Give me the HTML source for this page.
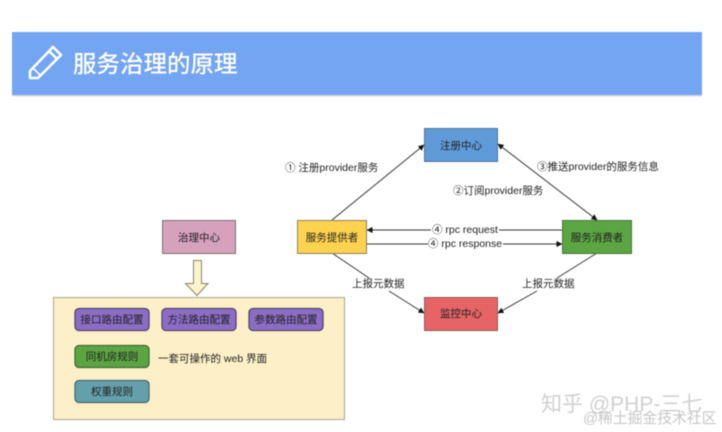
<!DOCTYPE html>
<html><head><meta charset="utf-8"><style>
html,body{margin:0;padding:0;background:#fff;width:722px;height:432px;overflow:hidden}
svg{display:block;filter:blur(.4px)}
text{font-family:"Liberation Sans","Noto Sans CJK SC",sans-serif;fill:#222;font-size:10.500px}
.c{text-anchor:middle}
</style></head><body>
<svg width="722" height="432" viewBox="0 0 722 432" xmlns="http://www.w3.org/2000/svg">
<defs><marker id="a" markerWidth="6" markerHeight="6" refX="5.5" refY="3" orient="auto" markerUnits="userSpaceOnUse"><path d="M0 0L6 3L0 6Z" fill="#111"/></marker>
<marker id="b" markerWidth="6" markerHeight="6" refX="0.5" refY="3" orient="auto" markerUnits="userSpaceOnUse"><path d="M6 0L0 3L6 6Z" fill="#111"/></marker></defs>
<rect x="12" y="32" width="690" height="63" fill="#74a5f2"/>
<rect x="12" y="95" width="690" height="1.5" fill="#d5d9e2"/>
<g fill="none" stroke="#fff" stroke-width="2.6" stroke-linejoin="round">
<path d="M30 71L30 78L38 78L61 55L53 47Z"/><path d="M49 51L57 59"/><path d="M33 68L41 76" stroke-width="1.6"/>
</g>
<text x="73" y="72" style="font-size:23.500px;font-weight:500;fill:#fff">服务治理的原理</text>

<g fill="none" stroke="#333" stroke-width="1">
<path d="M332 220L424 145" marker-end="url(#a)"/>
<path d="M498 144L597 220" marker-start="url(#b)" marker-end="url(#a)"/>
<path d="M431 230H367" marker-end="url(#a)"/>
<path d="M499 230H562"/>
<path d="M367 244H428"/>
<path d="M503 244H562" marker-end="url(#a)"/>
<path d="M332 253L369 278"/><path d="M389 291L424 313" marker-end="url(#a)"/>
<path d="M597 253L557 278"/><path d="M537 291L498 313" marker-end="url(#a)"/>
</g>

<g stroke-width="1">
<rect x="424.500" y="128.500" width="73" height="33" fill="#5f9bd8" stroke="#4d7396"/>
<rect x="297.500" y="220.500" width="69" height="33" fill="#fdd24f" stroke="#8f8259"/>
<rect x="562.500" y="220.500" width="69" height="33" fill="#5ca544" stroke="#47763a"/>
<rect x="424.500" y="297.500" width="73" height="33" fill="#e66465" stroke="#8c5b5b"/>
<rect x="162.500" y="220.500" width="73" height="33" fill="#d5a1bb" stroke="#7d6f76"/>
<rect x="53.500" y="297.500" width="291" height="122" fill="#fdf0c8" stroke="#a8a48c"/>
<path d="M193.500 260.500H201.500V283.500H208L197 295.500L185.500 283.500H193.500Z" fill="#fdf3cf" stroke="#85836a"/>
<rect x="75" y="308.500" width="74" height="22" rx="4" fill="#8d6cc6" stroke="#4f4570" stroke-width="1.300"/>
<rect x="162" y="308.500" width="74" height="22" rx="4" fill="#8d6cc6" stroke="#4f4570" stroke-width="1.300"/>
<rect x="249" y="308.500" width="74" height="22" rx="4" fill="#8d6cc6" stroke="#4f4570" stroke-width="1.300"/>
<rect x="75" y="345.500" width="74" height="22" rx="4" fill="#5ca544" stroke="#3f6b36" stroke-width="1.300"/>
<rect x="75" y="380.500" width="74" height="22" rx="4" fill="#64a0ab" stroke="#456a70" stroke-width="1.300"/>
</g>

<text class="c" x="461" y="149">注册中心</text>
<text class="c" x="332" y="241">服务提供者</text>
<text class="c" x="597" y="241">服务消费者</text>
<text class="c" x="461" y="317">监控中心</text>
<text class="c" x="199" y="241">治理中心</text>
<text class="c" x="112" y="323">接口路由配置</text>
<text class="c" x="199" y="323">方法路由配置</text>
<text class="c" x="286" y="323">参数路由配置</text>
<text class="c" x="112" y="360">同机房规则</text>
<text class="c" x="112" y="395">权重规则</text>
<text x="158" y="362">一套可操作的 web 界面</text>
<text x="285" y="171">① 注册provider服务</text>
<text x="537" y="170">③推送provider的服务信息</text>
<text x="453" y="194">②订阅provider服务</text>
<text x="432" y="233">④ rpc request</text>
<text x="428" y="247">④ rpc response</text>
<text x="352" y="287">上报元数据</text>
<text x="522" y="287">上报元数据</text>
<text x="541" y="411" style="font-size:21px;fill:#d0d0d0">知乎 @PHP-三七</text>
<text x="583" y="423" style="font-size:14.800px;fill:#c6c6c6">@稀土掘金技术社区</text>
</svg>
</body></html>
